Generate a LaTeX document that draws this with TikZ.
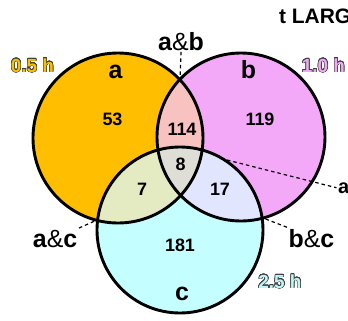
\documentclass[tikz,border=0pt]{standalone}
\usepackage{fontspec}
\setmainfont{Liberation Sans}
\usepackage[copies]{contour}
\contourlength{0.5pt}
\contournumber{24}

\definecolor{setA}{RGB}{255,190,0}
\definecolor{setB}{RGB}{244,168,248}
\definecolor{setC}{RGB}{196,254,254}
\definecolor{setAB}{RGB}{248,194,192}
\definecolor{setAC}{RGB}{228,235,195}
\definecolor{setBC}{RGB}{225,229,253}
\definecolor{setABC}{RGB}{222,221,214}
\definecolor{hrsA}{RGB}{250,190,0}
\definecolor{hrsB}{RGB}{242,168,246}
\definecolor{hrsC}{RGB}{190,246,246}

\begin{document}
\begin{tikzpicture}[x=1bp,y=-1bp,
  ring/.style={draw=black,line width=2.9bp},
  leader/.style={draw=black,line width=1.2bp,dash pattern=on 3.5bp off 3bp},
  setname/.style={font=\fontsize{25}{28}\selectfont\bfseries,inner sep=1.5pt,anchor=base},
  count/.style={font=\fontsize{18}{20}\selectfont\bfseries,inner sep=0pt,anchor=base},
  pairname/.style={font=\fontsize{25}{28}\selectfont,inner sep=1.5pt,anchor=base},
  hours/.style={font=\fontsize{19}{21}\selectfont\bfseries,inner sep=0pt,anchor=base}]

\useasboundingbox (0,0) rectangle (348,321);
\clip (0,0) rectangle (348,321);

% circle centres
\coordinate (A) at (118,138);
\coordinate (B) at (241,137);
\coordinate (C) at (180,230);

% single-set fills
\fill[setA] (A) circle[radius=85];
\fill[setB] (B) circle[radius=84];
\fill[setC] (C) circle[radius=83];

% pairwise overlaps
\begin{scope}
  \clip (A) circle[radius=85];
  \fill[setAB] (B) circle[radius=84];
\end{scope}
\begin{scope}
  \clip (A) circle[radius=85];
  \fill[setAC] (C) circle[radius=83];
\end{scope}
\begin{scope}
  \clip (B) circle[radius=84];
  \fill[setBC] (C) circle[radius=83];
\end{scope}
% triple overlap
\begin{scope}
  \clip (A) circle[radius=85];
  \clip (B) circle[radius=84];
  \fill[setABC] (C) circle[radius=83];
\end{scope}

% outlines
\draw[ring] (A) circle[radius=85];
\draw[ring] (B) circle[radius=84];
\draw[ring] (C) circle[radius=83];

% set names
\node[setname] (na) at (115.5,78) {a};
\node[setname] (nb) at (248.5,78) {b};
\node[setname] (nc) at (182,300) {c};

% region counts
\node[count] (n53)  at (112.5,125) {53};
\node[count] (n114) at (182,135) {114};
\node[count] (n119) at (260,125) {119};
\node[count] (n8)   at (180.5,170) {8};
\node[count] (n7)   at (142,195) {7};
\node[count] (n17)  at (220,195) {17};
\node[count] (n181) at (180,251) {181};

% overlap labels and their leaders
\coordinate (abTip) at (180,80);
\coordinate (acTip) at (97,220);
\coordinate (bcTip) at (263,218);
\coordinate (abcTip) at (227,160);

\node[pairname] (ab) at (181,50) {\textbf{a}\&\textbf{b}};
\node[pairname] (ac) at (55,247) {\textbf{a}\&\textbf{c}};
\node[pairname] (bc) at (311.5,247) {\textbf{b}\&\textbf{c}};
\node[font=\fontsize{20}{22}\selectfont\bfseries,inner sep=1.5pt,anchor=base west] (abc) at (336.5,193) {a};

\draw[leader] (ab.south) -- (abTip);
\draw[leader] (ac.north east) -- (acTip);
\draw[leader] (bc.north west) -- (bcTip);
\draw[leader] (abcTip) -- (abc.west);

% incubation times
\node[hours,text=hrsA] (ta) at (32.5,72) {\contour{black!75}{0.5 h}};
\node[hours,text=hrsB] (tb) at (323.5,72) {\contour{black!75}{1.0 h}};
\node[hours,text=hrsC] (tc) at (280,288) {\contour{black!75}{2.5 h}};

% heading
\node[font=\fontsize{21}{23}\selectfont\bfseries,inner sep=0pt,anchor=base west] (head) at (279,23) {t LARG};
\end{tikzpicture}
\end{document}
